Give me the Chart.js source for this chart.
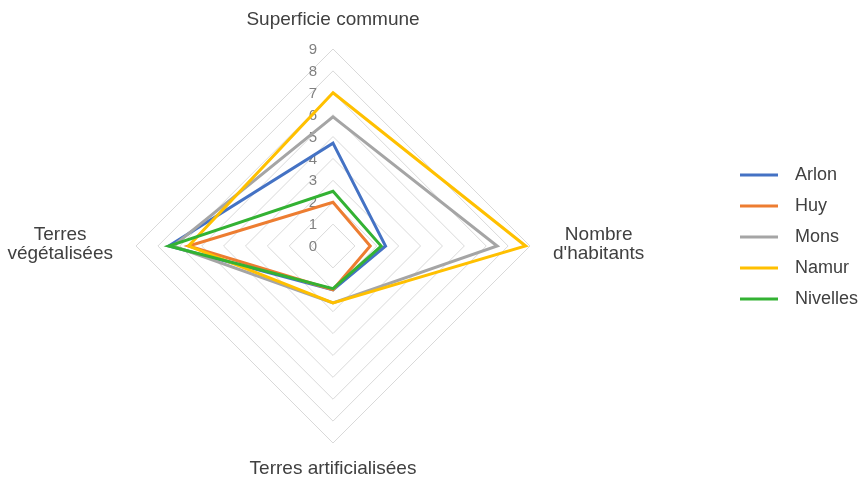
<!DOCTYPE html>
<html>
<head>
<meta charset="utf-8">
<script src="https://cdn.jsdelivr.net/npm/chart.js@4/dist/chart.umd.min.js"></script>
<style>
  html, body { margin: 0; padding: 0; background: #fff; }
  #wrap { width: 861px; height: 482px; }
</style>
</head>
<body>
<div id="wrap"><canvas id="myChart"></canvas></div>
<script>
/* data */
const labels = [
    'Superficie commune',
    ['Nombre', "d'habitants"],
    'Terres artificialisées',
    ['Terres', 'végétalisées'],
];
const tickValues = [0, 1, 2, 3, 4, 5, 6, 7, 8, 9];

const arlon = [4.7, 2.4, 2.0, 7.5];
const huy = [2.0, 1.7, 2.0, 6.6];
const mons = [5.9, 7.5, 2.6, 7.3];
const namur = [7.0, 8.8, 2.6, 6.6];
const nivelles = [2.5, 2.2, 1.95, 7.5];

const seriesNames = ['Arlon', 'Huy', 'Mons', 'Namur', 'Nivelles'];
const seriesColors = ['#4472c4', '#ed7d31', '#a5a5a5', '#ffc000', '#33b233'];
const seriesValues = [arlon, huy, mons, namur, nivelles];

/* layout of the radar (centre and radius in px) */
const radarX = 333;
const radarY = 246;
const radarR = 197;
const FONT = '"Liberation Sans", Arial, sans-serif';

// little line swatch for the legend (line on the left, blank on the right)
function legendLine(color) {
    const c = document.createElement('canvas');
    c.width = 46;
    c.height = 6;
    const g = c.getContext('2d');
    g.strokeStyle = color;
    g.lineWidth = 3;
    g.beginPath();
    g.moveTo(0, 3);
    g.lineTo(38, 3);
    g.stroke();
    return c;
}

const datasets = seriesNames.map((name, i) => ({
    label: name,
    data: seriesValues[i],
    borderColor: seriesColors[i],
    backgroundColor: seriesColors[i],
    borderWidth: 3,
    fill: false,
    pointRadius: 0,
    pointHoverRadius: 0,
    pointStyle: legendLine(seriesColors[i]),
    order: seriesNames.length - i, // later series drawn on top, like the original
}));

// tick numbers just left of the vertical axis + centred axis titles
const radarText = {
    id: 'radarText',
    afterLayout(chart) {
        // nudge the legend a bit right / up
        const lg = chart.legend;
        lg.left += 7; lg.right += 7;
        lg.top -= 4; lg.bottom -= 4;
    },
    beforeDatasetsDraw(chart) {
        const s = chart.scales.r;
        const ctx = chart.ctx;
        ctx.save();
        ctx.font = '15px ' + FONT;
        ctx.fillStyle = '#808080';
        ctx.textAlign = 'center';
        ctx.textBaseline = 'middle';
        tickValues.forEach(v => {
            const d = s.getDistanceFromCenterForValue(v);
            ctx.fillText(String(v), s.xCenter - 20, s.yCenter - d + 1);
        });
        ctx.restore();
    },
    afterDraw(chart) {
        const s = chart.scales.r;
        const ctx = chart.ctx;
        const lh = 19;
        ctx.save();
        ctx.font = '19px ' + FONT;
        ctx.fillStyle = '#404040';
        ctx.textAlign = 'center';
        labels.forEach((lab, i) => {
            const lines = Array.isArray(lab) ? lab : [lab];
            const p = s.getPointPosition(i, s.drawingArea);
            const w = Math.max(...lines.map(t => ctx.measureText(t).width));
            if (i === 0) {
                ctx.textBaseline = 'alphabetic';
                ctx.fillText(lines[0], p.x, p.y - 24);
            } else if (i === 2) {
                ctx.textBaseline = 'alphabetic';
                ctx.fillText(lines[0], p.x, p.y + 31);
            } else {
                const cx = i === 1 ? p.x + 23 + w / 2 : p.x - 23 - w / 2;
                ctx.textBaseline = 'middle';
                lines.forEach((t, k) => {
                    ctx.fillText(t, cx, p.y + (k - (lines.length - 1) / 2) * lh - 2);
                });
            }
        });
        ctx.restore();
    }
};

const myChart = new Chart(document.getElementById('myChart'), {
    type: 'radar',
    data: {
        labels: labels,
        datasets: datasets
    },
    options: {
        responsive: true,
        maintainAspectRatio: false,
        animation: false,
        elements: {
            line: { tension: 0, borderJoinStyle: 'miter' }
        },
        plugins: {
            legend: {
                position: 'right',
                labels: {
                    usePointStyle: true,
                    pointStyleWidth: 46,
                    color: '#404040',
                    font: { size: 18, family: FONT },
                    padding: 13,
                    sort: (a, b) => a.datasetIndex - b.datasetIndex
                }
            },
            tooltip: { enabled: false }
        },
        scales: {
            r: {
                min: 0,
                max: 9,
                ticks: { stepSize: 1, display: false },
                grid: { color: '#d9d9d9', lineWidth: 1 },
                angleLines: { display: false },
                pointLabels: { display: false },
                afterFit: (s) => {
                    s.xCenter = radarX;
                    s.yCenter = radarY;
                    s.drawingArea = radarR;
                }
            }
        }
    },
    plugins: [radarText]
});
</script>
</body>
</html>
